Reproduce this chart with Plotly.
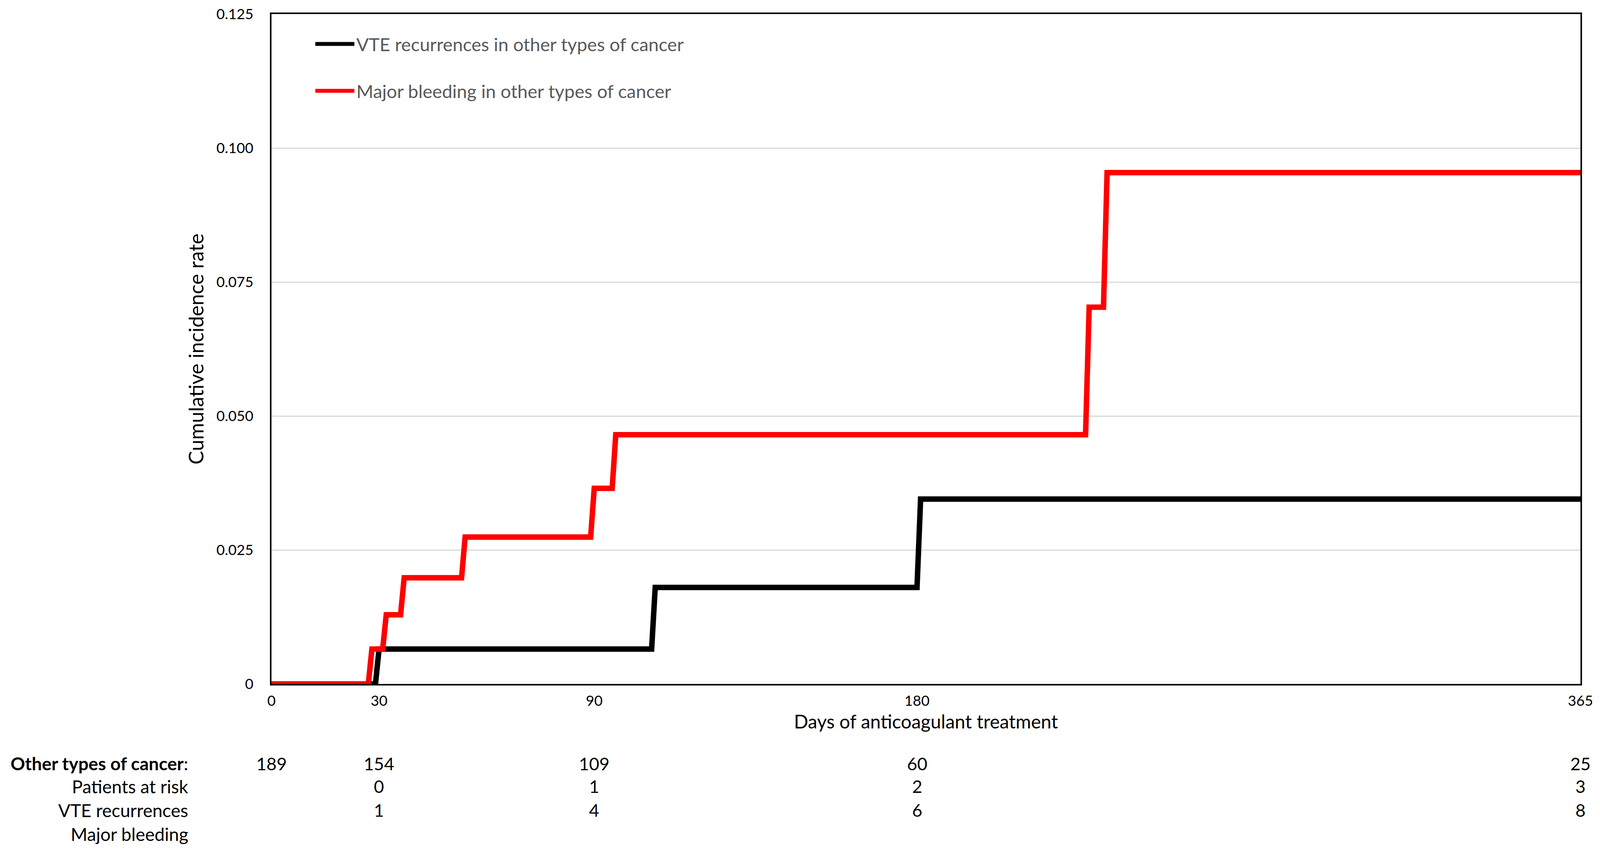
import plotly.graph_objects as go

# ---- data ----
vte_days = [0, 29, 30, 106, 107, 180, 181, 365]
vte_rate = [0, 0, 0.0065, 0.0065, 0.0180, 0.0180, 0.0345, 0.0345]

mb_days = [0, 27, 28, 31, 32, 36, 37, 53, 54, 89, 90, 95, 96, 227, 228, 232, 233, 365]
mb_rate = [0, 0, 0.0065, 0.0065, 0.0129, 0.0129, 0.0198, 0.0198, 0.0274, 0.0274,
           0.0365, 0.0365, 0.0465, 0.0465, 0.0703, 0.0703, 0.0954, 0.0954]

x_ticks = [0, 30, 90, 180, 365]
y_ticks = [0, 0.025, 0.05, 0.075, 0.1, 0.125]
y_ticktext = ["0", "0.025", "0.050", "0.075", "0.100", "0.125"]

table_labels = ["<b>Other types of cancer</b>:", "Patients at risk", "VTE recurrences", "Major bleeding"]
row_other_days = [0, 30, 90, 180, 365]
row_other_vals = [189, 154, 109, 60, 25]
row_risk_days = [30, 90, 180, 365]
row_risk_vals = [0, 1, 2, 3]
row_vte_days = [30, 90, 180, 365]
row_vte_vals = [1, 4, 6, 8]

FONT = "Lato, 'Open Sans', sans-serif"

fig = go.Figure()
fig.add_trace(go.Scatter(x=vte_days, y=vte_rate, mode="lines",
                         name="VTE recurrences in other types of cancer",
                         legendgroup="a",
                         line=dict(color="#000000", width=14)))
fig.add_trace(go.Scatter(x=mb_days, y=mb_rate, mode="lines",
                         name="Major bleeding in other types of cancer",
                         legendgroup="b",
                         line=dict(color="#ff0000", width=14)))

# risk table annotations
row_y = [-0.1187, -0.153, -0.1885, -0.224]
for lab, yy in zip(table_labels, row_y):
    fig.add_annotation(text=lab, xref="paper", yref="paper", x=-0.063, y=yy,
                       xanchor="right", yanchor="middle", showarrow=False,
                       font=dict(family=FONT, size=46, color="#000000"))
for days, vals, yy in [(row_other_days, row_other_vals, row_y[0]),
                       (row_risk_days, row_risk_vals, row_y[1]),
                       (row_vte_days, row_vte_vals, row_y[2])]:
    for d, v in zip(days, vals):
        fig.add_annotation(text=str(v), xref="x", yref="paper", x=d, y=yy,
                           xanchor="center", yanchor="middle", showarrow=False,
                           font=dict(family=FONT, size=45, color="#000000"))

fig.update_layout(
    autosize=True,
    margin=dict(l=695, r=50, t=32, b=438),
    paper_bgcolor="white", plot_bgcolor="white",
    font=dict(family=FONT, color="#000000"),
    showlegend=True,
    legend=dict(x=0.032, y=0.977, xanchor="left", yanchor="top",
                bgcolor="rgba(0,0,0,0)", traceorder="grouped",
                tracegroupgap=56, itemwidth=100,
                font=dict(family=FONT, size=47, color="#595959")),
    xaxis=dict(range=[0, 365], tickvals=x_ticks, ticktext=[str(t) for t in x_ticks],
               showgrid=False, zeroline=False, showline=True, mirror=True,
               linecolor="#000000", linewidth=4, ticks="",
               ticklabelstandoff=8,
               tickfont=dict(family=FONT, size=37, color="#000000"),
               title=dict(text="Days of anticoagulant treatment", standoff=18,
                          font=dict(family=FONT, size=48, color="#000000"))),
    yaxis=dict(range=[0, 0.125], tickvals=y_ticks, ticktext=y_ticktext,
               showgrid=True, gridcolor="#d9d9d9", gridwidth=3,
               zeroline=False, showline=True, mirror=True,
               linecolor="#000000", linewidth=4, ticks="",
               ticklabelstandoff=35,
               tickfont=dict(family=FONT, size=37, color="#000000"),
               title=dict(text="Cumulative incidence rate", standoff=17,
                          font=dict(family=FONT, size=52, color="#000000"))),
)

fig.write_html("out.html", config={"displayModeBar": False, "responsive": True},
               default_width="100vw", default_height="100vh",
               post_script="document.body.style.margin='0';document.documentElement.style.overflow='hidden';document.body.style.overflow='hidden';window.dispatchEvent(new Event('resize'));")
